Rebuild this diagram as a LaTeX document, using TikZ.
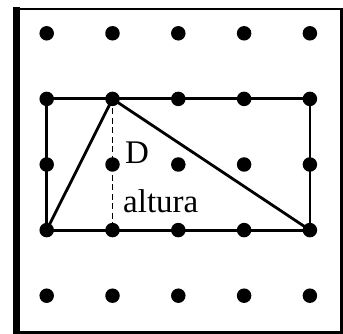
\documentclass[tikz,border=0pt]{standalone}
\usepackage{fontspec}
\setmainfont{Liberation Serif}
\begin{document}
\begin{tikzpicture}[x=1pt,y=-1pt,
  dot/.style={circle,fill=black,inner sep=0pt,minimum size=14.5pt},
  edge/.style={line width=2.8pt},
  alt/.style={line width=1.2pt,dash pattern=on 6pt off 3.5pt},
  lbl/.style={inner sep=0pt,anchor=base west,font=\fontsize{33}{34}\selectfont}]
\useasboundingbox (0,0) rectangle (343,334);
% frame
\draw[line width=2.4pt] (16.5,9) -- (341.5,9) -- (341.5,332.5) -- (16.5,332.5);
\draw[line width=7pt] (16.5,7.5) -- (16.5,334);
% dots
\foreach \i in {0,...,4}{
  \foreach \j in {0,...,4}{
    \node[dot] (p\i\j) at ({46.7+65.8*\i},{33.3+65.6*\j}) {};
  }
}
% rectangle
\draw[edge] (p01.center) -- (p41.center) -- (p43.center) -- (p03.center) -- cycle;
% triangle
\draw[edge,line join=round] (p03.center) -- (p11.center) -- (p43.center);
% height
\draw[alt] (p11.center) -- (p13.center);
\node[lbl] (d) at (125,164) {D};
\node[lbl] (a) at (123,212) {altura};
\end{tikzpicture}
\end{document}
